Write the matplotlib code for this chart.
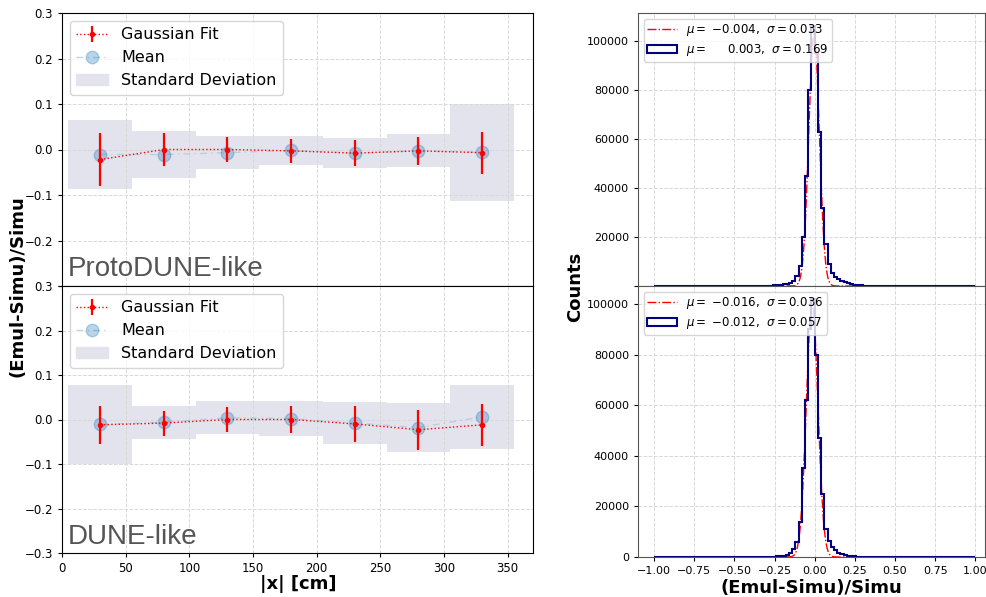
import numpy as np
import matplotlib.pyplot as plt
from matplotlib.patches import Patch

# ---- left panels: residual vs |x| ----
x_lo = [5, 55, 105, 155, 205, 255, 305]
x_hi = [55, 105, 155, 205, 255, 305, 355]

proto_mean = [-0.011, -0.011, -0.007, -0.002, -0.008, -0.003, -0.006]
proto_std = [0.076, 0.052, 0.036, 0.031, 0.033, 0.036, 0.107]
proto_fit = [-0.022, 0.000, 0.000, -0.003, -0.008, -0.003, -0.007]
proto_fit_err = [0.058, 0.036, 0.027, 0.026, 0.028, 0.030, 0.046]

dune_mean = [-0.011, -0.006, 0.004, 0.002, -0.008, -0.018, 0.006]
dune_std = [0.089, 0.037, 0.037, 0.040, 0.048, 0.055, 0.072]
dune_fit = [-0.012, -0.008, 0.000, 0.000, -0.010, -0.023, -0.012]
dune_fit_err = [0.042, 0.028, 0.028, 0.030, 0.040, 0.045, 0.047]

# ---- right panels: histograms, bin width 0.02 on [-1, 1] ----
hist_edges = np.linspace(-1, 1, 101)
# counts of the 30 bins between -0.30 and 0.30 (outside that ~0)
proto_counts = [150, 200, 300, 400, 550, 750, 1000, 1400, 2200, 4000,
                8000, 20000, 45000, 80000, 106000, 95000, 63000, 32000, 17000, 9000,
                5500, 3800, 2800, 2000, 1500, 1100, 800, 600, 450, 300]
dune_counts = [50, 80, 120, 200, 300, 500, 900, 1600, 3000, 6000,
               14000, 35000, 62000, 90000, 102000, 80000, 47000, 25000, 11000, 6500,
               4000, 2600, 1700, 1100, 700, 450, 300, 200, 120, 80]
proto_gaus = {"amp": 103000, "mu": -0.004, "sigma": 0.033}
proto_stats = {"mu": 0.003, "sigma": 0.169}
dune_gaus = {"amp": 100000, "mu": -0.016, "sigma": 0.036}
dune_stats = {"mu": -0.012, "sigma": 0.057}


def full_counts(counts):
    out = np.zeros(len(hist_edges) - 1)
    start = 35
    out[start:start + len(counts)] = counts
    return out


def fmt_label(mu, sigma):
    m = "{:.3f}".format(mu)
    if mu < 0:
        m = r"$-$" + m[1:]
    else:
        m = r"$\ \ \ \ $" + m
    return r"$\mu=$ " + m + r",  $\sigma=$" + "{:.3f}".format(sigma)


fig = plt.figure(figsize=(9.87, 5.97), dpi=100)
W, H = 987.0, 597.0

def px_axes(x0, y0, x1, y1):
    return fig.add_axes([x0 / W, 1 - y1 / H, (x1 - x0) / W, (y1 - y0) / H])

ax_l = [px_axes(62, 13, 533, 286), px_axes(62, 286, 533, 553)]
ax_r = [px_axes(638, 13, 985, 286), px_axes(638, 286, 985, 557)]

xc = [(a + b) / 2 for a, b in zip(x_lo, x_hi)]
left_data = [(proto_mean, proto_std, proto_fit, proto_fit_err, "ProtoDUNE-like"),
             (dune_mean, dune_std, dune_fit, dune_fit_err, "DUNE-like")]
yt = np.round(np.arange(-0.3, 0.31, 0.1), 1)

for i, (ax, (mean, std, fit, fit_err, name)) in enumerate(zip(ax_l, left_data)):
    for lo, hi, m, s in zip(x_lo, x_hi, mean, std):
        ax.fill_between([lo, hi], m - s, m + s, color="#e3e3ee", lw=0, zorder=1)
    ax.plot(xc, mean, ls=(0, (5, 3, 1, 3)), color="tab:blue", alpha=0.2, lw=1, zorder=2)
    ax.plot(xc, mean, "o", color="tab:blue", alpha=0.3, ms=9, zorder=2)
    ax.errorbar(xc, fit, yerr=fit_err, fmt=".:", color="red", ms=6,
                elinewidth=1.6, lw=1, zorder=3)
    ax.set_xlim(0, 370)
    ax.set_ylim(-0.3, 0.3)
    labels = ["{:.1f}".format(v).replace("-", "\u2212") for v in yt]
    if i == 0:
        labels[0] = ""
    ax.set_yticks(yt, labels)
    ax.set_xticks(np.arange(0, 351, 50))
    ax.grid(ls="--", color="#d8d8d8", lw=0.7)
    ax.tick_params(labelsize=8.5, length=3)
    ax.text(0.012, 0.035, name, transform=ax.transAxes, fontsize=20,
            family="Liberation Sans", color="#555555")
    handles = [
        ax.errorbar([], [], yerr=[], fmt=".:", color="red", ms=6, elinewidth=1.6, lw=1),
        plt.Line2D([], [], marker="o", ls=(0, (5, 3, 1, 3)), color="tab:blue",
                   alpha=0.3, ms=9, lw=1),
        Patch(color="#e3e3ee"),
    ]
    ax.legend(handles, ["Gaussian Fit", "Mean", "Standard Deviation"],
              loc="upper left", fontsize=11.5, framealpha=0.8)
ax_l[0].tick_params(labelbottom=False)
fig.text(298 / W, 1 - 584 / H, "|x| [cm]", fontsize=13, fontweight="bold",
         ha="center", va="center")
fig.text(0.018, 0.52, "(Emul-Simu)/Simu", rotation=90, fontsize=13,
         fontweight="bold", ha="center", va="center")

right_data = [(proto_counts, proto_gaus, proto_stats, 111400),
              (dune_counts, dune_gaus, dune_stats, 107100)]
xs = np.linspace(-1, 1, 2001)
yt_r = np.arange(0, 100001, 20000)
for i, (ax, (counts, g, st, ytop)) in enumerate(zip(ax_r, right_data)):
    gy = g["amp"] * np.exp(-0.5 * ((xs - g["mu"]) / g["sigma"]) ** 2)
    ax.plot(xs, gy, "-.", color="red", lw=1, label=fmt_label(g["mu"], g["sigma"]))
    ax.hist(hist_edges[:-1], bins=hist_edges, weights=full_counts(counts),
            histtype="step", color="navy", lw=1.5,
            label=fmt_label(st["mu"], st["sigma"]))
    ax.set_xlim(-1.1, 1.06)
    ax.set_ylim(0, ytop)
    ax.set_xticks(np.arange(-1, 1.01, 0.25))
    labels = [str(v) for v in yt_r]
    if i == 0:
        labels[0] = ""
    ax.set_yticks(yt_r, labels)
    ax.grid(ls="--", color="#d8d8d8", lw=0.7)
    ax.tick_params(labelsize=8, length=3)
    for sp in ax.spines.values():
        sp.set_color("#555555")
    ax.legend(loc="upper left", fontsize=8.5, borderpad=0.3, handlelength=2.5,
              labelspacing=0.3)
ax_r[0].tick_params(labelbottom=False)
fig.text(811 / W, 1 - 588 / H, "(Emul-Simu)/Simu", fontsize=13, fontweight="bold",
         ha="center", va="center")
fig.text(0.583, 0.52, "Counts", rotation=90, fontsize=13, fontweight="bold",
         ha="center", va="center")

fig.savefig("out.png", dpi=100)
